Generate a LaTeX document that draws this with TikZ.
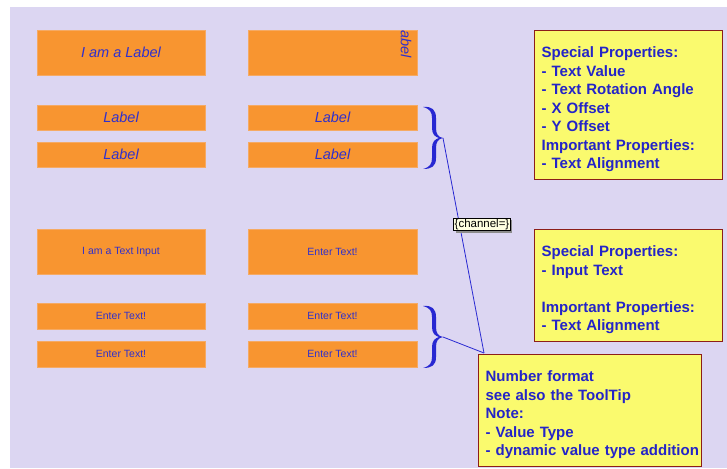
\documentclass[tikz,border=0pt]{standalone}
\usepackage{fontspec}
\setmainfont{Liberation Sans}
\usetikzlibrary{calc,shadows}

\definecolor{panel}{RGB}{220,214,242}
\definecolor{widget}{RGB}{248,149,48}
\definecolor{widgetedge}{RGB}{245,170,100}
\definecolor{ink}{RGB}{48,48,204}
\definecolor{notefill}{RGB}{250,250,110}
\definecolor{noteedge}{RGB}{140,30,25}
\definecolor{notetext}{RGB}{36,36,200}
\definecolor{wire}{RGB}{40,40,210}
\definecolor{tipfill}{RGB}{255,255,225}

\tikzset{
  widgetbox/.style={fill=widget, draw=widgetedge, line width=0.5pt,
    inner sep=0pt, text=ink, anchor=center},
  lblbox/.style={widgetbox, font=\fontsize{14.5}{16}\selectfont\itshape},
  inpbox/.style={widgetbox, font=\fontsize{10.5}{12}\selectfont},
  notebox/.style={fill=notefill, draw=noteedge, line width=1.2pt,
    anchor=north west, align=left, text=notetext,
    font=\fontsize{15}{18.5}\selectfont\bfseries,
    inner xsep=7pt, inner ysep=0pt,
    execute at begin node={\hyphenpenalty=10000\hbadness=10000\hfuzz=20pt\rule{0pt}{19pt}}},
  tipbox/.style={fill=tipfill, draw=black, line width=0.6pt,
    inner xsep=1pt, inner ysep=0.8pt, font=\fontsize{11.5}{12}\selectfont,
    drop shadow={shadow xshift=2pt, shadow yshift=-2pt, fill=black!45, opacity=1}},
  wireline/.style={draw=wire, line width=0.8pt},
  curlybrace/.pic={
    \fill[wire] (0,0)
      .. controls (9,-1) and (13,3) .. (13,11) -- (13,21)
      .. controls (13,27) and (15,30) .. (20,31)
      .. controls (15,32) and (13,35) .. (13,41) -- (13,51)
      .. controls (13,59) and (9,62) .. (0,62)
      .. controls (7,60) and (9,57) .. (9,51) -- (9,41)
      .. controls (9,35) and (12,32) .. (16,31)
      .. controls (12,30) and (9,27) .. (9,21) -- (9,11)
      .. controls (9,5) and (7,2) .. (0,0) -- cycle;
  }
}

\begin{document}
\begin{tikzpicture}[x=1pt,y=-1pt]
  \useasboundingbox (0,0) rectangle (727,468);
  \fill[white] (0,0) rectangle (727,468);
  \fill[panel] (10,7) rectangle (727,468);

  % label widgets
  \node[lblbox, minimum width=168pt, minimum height=45pt] (l1) at (121,52.5) {I am a Label};
  \node[lblbox, minimum width=169pt, minimum height=45pt] (r1) at (332.5,52.5) {};
  \begin{scope}
    \clip (248,30) rectangle (417,75);
    \node[text=ink, font=\fontsize{14.5}{16}\selectfont\itshape, rotate=-90, inner sep=0pt] (rot) at (406,40) {Label};
  \end{scope}
  \node[lblbox, minimum width=168pt, minimum height=25pt] (l2) at (121,117.5) {Label};
  \node[lblbox, minimum width=169pt, minimum height=25pt] (r2) at (332.5,117.5) {Label};
  \node[lblbox, minimum width=168pt, minimum height=25pt] (l3) at (121,154.5) {Label};
  \node[lblbox, minimum width=169pt, minimum height=25pt] (r3) at (332.5,154.5) {Label};

  % text input widgets
  \node[inpbox, minimum width=168pt, minimum height=45pt] (l4) at (121,251.5) {I am a Text Input};
  \node[inpbox, minimum width=169pt, minimum height=45pt] (r4) at (332.5,251.5) {Enter Text!};
  \node[inpbox, minimum width=168pt, minimum height=26pt] (l5) at (121,316) {Enter Text!};
  \node[inpbox, minimum width=169pt, minimum height=26pt] (r5) at (332.5,316) {Enter Text!};
  \node[inpbox, minimum width=168pt, minimum height=26pt] (l6) at (121,354) {Enter Text!};
  \node[inpbox, minimum width=169pt, minimum height=26pt] (r6) at (332.5,354) {Enter Text!};

  % notes
  \node[notebox, text width=174pt, minimum height=149pt] (noteA) at (534,30)
    {Special Properties:\\- Text Value\\- Text Rotation Angle\\- X Offset\\- Y Offset\\Important Properties:\\- Text Alignment};
  \node[notebox, text width=174pt, minimum height=112pt] (noteB) at (534,229)
    {Special Properties:\\- Input Text\\\mbox{}\\Important Properties:\\- Text Alignment};
  \node[notebox, text width=209pt, minimum height=112pt] (noteC) at (478,354)
    {Number format\\see also the ToolTip\\Note:\\- Value Type\\\mbox{- dynamic value type addition}};

  % braces grouping the widget pairs
  \pic at (423,107) {curlybrace};
  \pic at (423,306) {curlybrace};
  \coordinate (tipA) at (443,138);
  \coordinate (tipB) at (443,337);
  \coordinate (hook) at ($(noteC.north west)+(6,-1)$);

  \draw[wireline] (tipA) -- (hook);
  \draw[wireline] (tipB) -- (hook);

  \node[tipbox] (chan) at (482,224.5) {\{channel=\}};
\end{tikzpicture}
\end{document}
